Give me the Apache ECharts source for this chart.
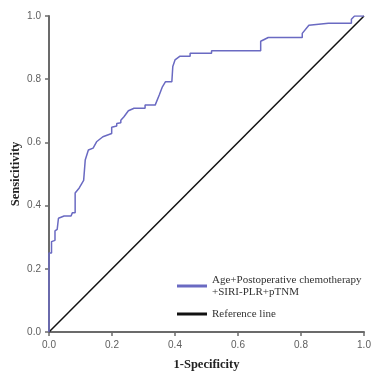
<!DOCTYPE html>
<html>
<head>
<meta charset="utf-8">
<script src="https://cdn.jsdelivr.net/npm/echarts@6/dist/echarts.min.js"></script>
<style>
  html, body { margin: 0; padding: 0; background: #fff; }
  #main { width: 375px; height: 373px; }
</style>
</head>
<body>
<div id="main"></div>
<script>
// ROC curve points: [1-specificity, sensitivity]
const rocPoints = [
  [0, 0], [0, 0.25], [0.008, 0.25], [0.008, 0.286], [0.019, 0.29], [0.019, 0.32],
  [0.026, 0.325], [0.03, 0.36], [0.048, 0.367], [0.07, 0.367], [0.074, 0.377],
  [0.083, 0.377], [0.083, 0.44], [0.096, 0.456], [0.11, 0.48], [0.115, 0.544],
  [0.125, 0.576], [0.14, 0.582], [0.151, 0.602], [0.171, 0.618], [0.199, 0.628],
  [0.199, 0.648], [0.215, 0.652], [0.215, 0.66], [0.228, 0.662], [0.228, 0.67],
  [0.238, 0.681], [0.252, 0.7], [0.27, 0.708], [0.305, 0.708], [0.305, 0.718],
  [0.337, 0.718], [0.35, 0.75], [0.36, 0.776], [0.37, 0.792], [0.39, 0.792],
  [0.393, 0.84], [0.4, 0.861], [0.416, 0.873], [0.448, 0.873], [0.448, 0.882],
  [0.516, 0.882], [0.516, 0.89], [0.672, 0.89], [0.672, 0.92], [0.696, 0.932],
  [0.804, 0.932], [0.804, 0.945], [0.825, 0.971], [0.887, 0.977], [0.96, 0.977],
  [0.96, 0.99], [0.97, 1], [1, 1]
];
const refPoints = [[0, 0], [1, 1]];
const seriesNames = ['Age+Postoperative chemotherapy\n+SIRI-PLR+pTNM', 'Reference line'];

const chart = echarts.init(document.getElementById('main'));

const axisCommon = {
  type: 'value',
  min: 0,
  max: 1,
  interval: 0.2,
  nameLocation: 'middle',
  nameMoveOverlap: false,
  nameTextStyle: { fontFamily: 'Liberation Serif', fontWeight: 'bold', fontSize: 12.5, color: '#222' },
  axisLine: { show: true, lineStyle: { color: '#6b6b6b', width: 2 } },
  axisTick: { show: true, length: 4, lineStyle: { color: '#6b6b6b', width: 1.5 } },
  axisLabel: {
    color: '#5e5e5e', fontFamily: 'Liberation Sans', fontSize: 10,
    formatter: v => v.toFixed(1)
  },
  splitLine: { show: false }
};

const option = {
  backgroundColor: '#fff',
  animation: false,
  grid: { left: 49, right: 11, top: 16, bottom: 41, outerBoundsMode: 'none' },
  xAxis: Object.assign({}, axisCommon, { name: '1-Specificity', nameGap: 26 }),
  yAxis: Object.assign({}, axisCommon, { name: 'Sensicitivity', nameGap: 27 }),
  legend: {
    orient: 'vertical',
    left: 177,
    top: 274,
    padding: 0,
    itemWidth: 30,
    itemHeight: 3,
    itemGap: 10,
    icon: 'rect',
    data: seriesNames,
    textStyle: { fontFamily: 'Liberation Serif', fontSize: 11, color: '#333', lineHeight: 12 }
  },
  series: [
    {
      name: seriesNames[0],
      type: 'line',
      data: rocPoints,
      symbol: 'none',
      lineStyle: { color: '#6a6ac2', width: 1.5 },
      itemStyle: { color: '#6a6ac2' },
      z: 3
    },
    {
      name: seriesNames[1],
      type: 'line',
      data: refPoints,
      symbol: 'none',
      lineStyle: { color: '#111', width: 1.5 },
      itemStyle: { color: '#111' },
      z: 2
    }
  ]
};

option && chart.setOption(option);
</script>
</body>
</html>
